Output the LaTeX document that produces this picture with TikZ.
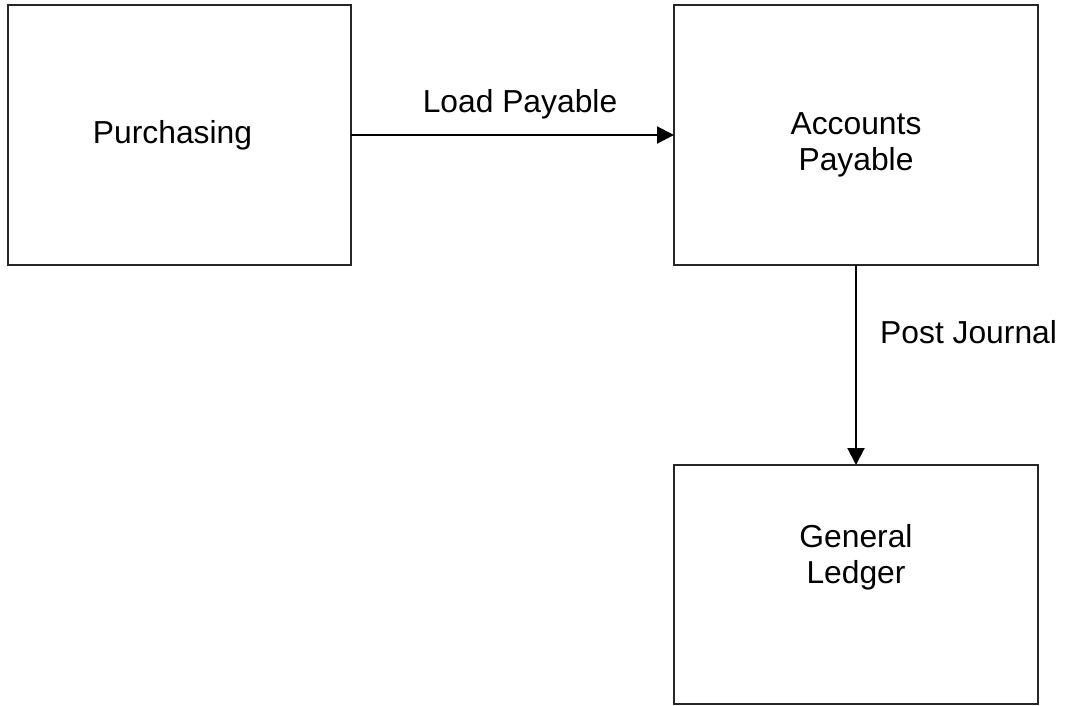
\documentclass[tikz,border=0pt]{standalone}
\usepackage{fontspec}
\setmainfont{Liberation Sans}
\usetikzlibrary{arrows.meta}
\begin{document}
\begin{tikzpicture}[x=1pt,y=-1pt,
  box/.style={draw=black!85, line width=1.2pt},
  lbl/.style={font=\fontsize{31.8}{36}\selectfont, align=center, inner sep=0pt},
  conn/.style={line width=2pt, -{Triangle[length=17pt,width=17pt]}}]
\useasboundingbox (0,0) rectangle (1068,705);
\draw[box] (8,5) rectangle (351,265);
\node[lbl] (pur) at (172.5,135) {Purchasing};
\coordinate (purE) at (351,135);
\draw[box] (674,5) rectangle (1038,265);
\node[lbl] (ap) at (856,145) {Accounts\\Payable};
\coordinate (apW) at (674,135);
\coordinate (apS) at (856,265);
\draw[box] (674,465) rectangle (1038,704);
\node[lbl] (gl) at (856,557) {General\\Ledger};
\coordinate (glN) at (856,465);
\draw[conn] (purE) -- (apW);
\draw[conn] (apS) -- (glN);
\node[lbl] (lp) at (520,104) {Load Payable};
\node[lbl, anchor=west] (pj) at (880,332) {Post Journal};
\end{tikzpicture}
\end{document}
